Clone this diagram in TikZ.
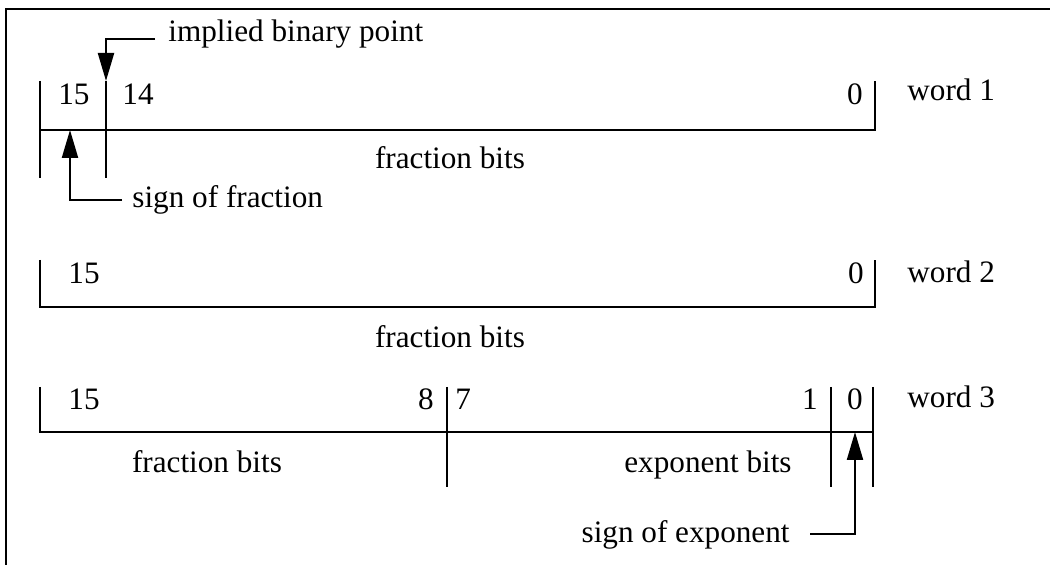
\documentclass[tikz,border=0pt]{standalone}
\usepackage{fontspec}
\setmainfont{Liberation Serif}
\usetikzlibrary{arrows.meta}

\tikzset{
  field/.style={line width=1.1pt},
  ptr/.style={line width=1.1pt,-{Triangle[length=14pt,width=8pt]}},
  lbl/.style={inner sep=0pt,font=\fontsize{15.6}{18}\selectfont},
}

\begin{document}
\begin{tikzpicture}[x=0.5pt, y=-0.5pt]
\useasboundingbox (0,0) rectangle (1050,565);

\draw[line width=1.4pt] (6,565) -- (6,9) -- (1050,9);

% word 1
\draw[field] (40,81) -- (40,178);
\draw[field] (40,130) -- (875,130) -- (875,81);
\draw[field] (106,81) -- (106,178);
\node[lbl,anchor=base west] (w1hi) at (58,105) {15};
\node[lbl,anchor=base west] (w1nx) at (122,105) {14};
\node[lbl,anchor=base east] (w1lo) at (863,105) {0};
\node[lbl,anchor=base west] (w1) at (907,101) {word 1};
\node[lbl,anchor=base] (w1frac) at (450,169) {fraction bits};

\coordinate (bp) at (106,81);
\node[lbl,anchor=base west] (bptext) at (168,42) {implied binary point};
\draw[ptr] ([xshift=-6.5pt,yshift=1.5pt]bptext.base west) -| (bp);

\coordinate (fsign) at (70,130);
\node[lbl,anchor=base west] (fsigntext) at (132,208) {sign of fraction};
\draw[ptr] ([xshift=-5pt,yshift=4pt]fsigntext.base west) -| (fsign);

% word 2
\draw[field] (40,260) -- (40,307) -- (875,307) -- (875,260);
\node[lbl,anchor=base west] (w2hi) at (68,284) {15};
\node[lbl,anchor=base east] (w2lo) at (864,284) {0};
\node[lbl,anchor=base west] (w2) at (907,283) {word 2};
\node[lbl,anchor=base] (w2frac) at (450,348) {fraction bits};

% word 3
\draw[field] (40,387) -- (40,432) -- (873,432);
\foreach \xb in {447,831,873}
  \draw[field] (\xb,387) -- (\xb,487);
\node[lbl,anchor=base west] (w3hi) at (68,410) {15};
\node[lbl,anchor=base east] (w3e) at (434,410) {8};
\node[lbl,anchor=base west] (w3s) at (455,410) {7};
\node[lbl,anchor=base east] (w3one) at (818,410) {1};
\node[lbl,anchor=base east] (w3lo) at (863,410) {0};
\node[lbl,anchor=base west] (w3) at (907,408) {word 3};
\node[lbl,anchor=base] (w3frac) at (207,473) {fraction bits};
\node[lbl,anchor=base east] (w3exp) at (792,473) {exponent bits};

\coordinate (esign) at (855,432);
\node[lbl,anchor=base east] (esigntext) at (790,543) {sign of exponent};
\draw[ptr] ([xshift=10pt,yshift=4.5pt]esigntext.base east) -| (esign);

\end{tikzpicture}
\end{document}
